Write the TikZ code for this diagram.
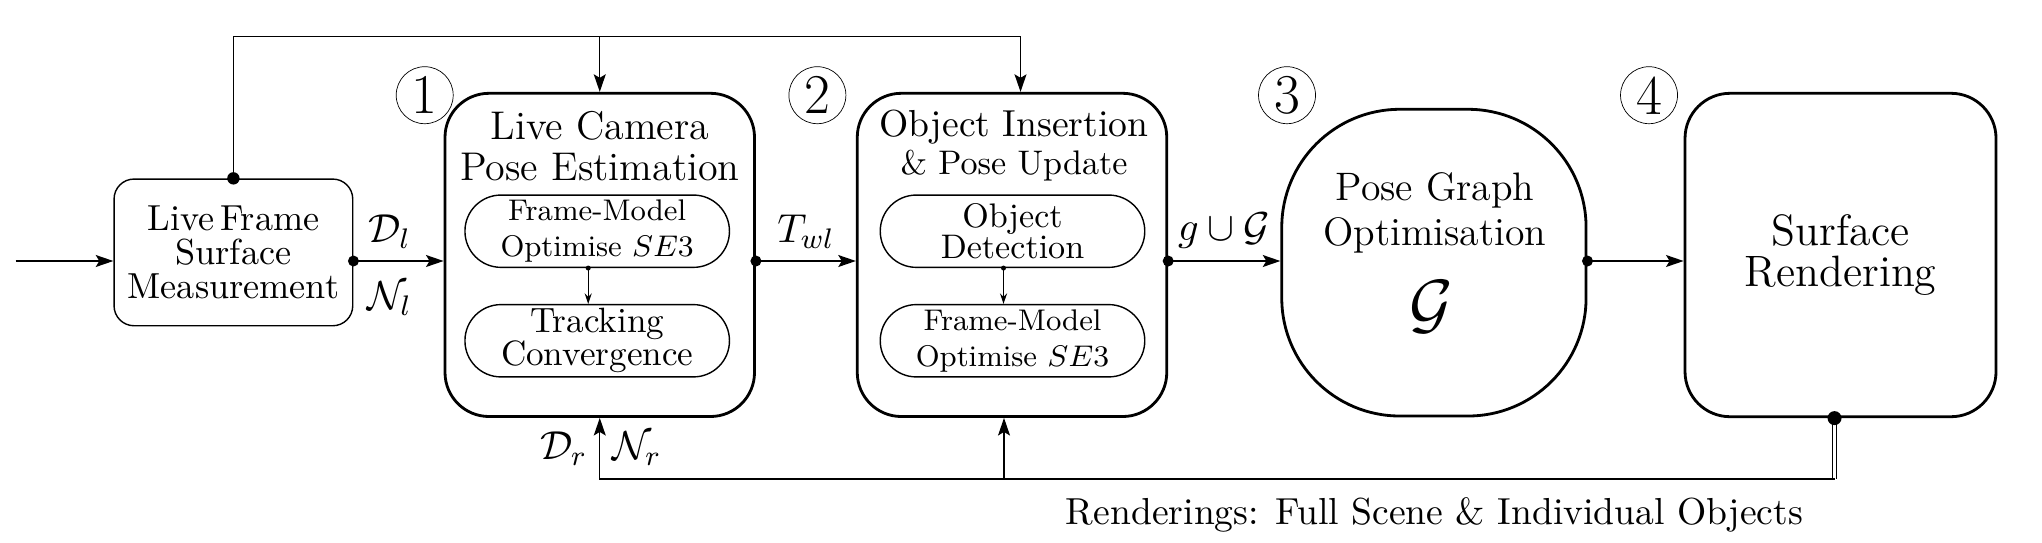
\RequirePackage{fix-cm}
\documentclass[tikz,border=0pt]{standalone}
\usetikzlibrary{arrows.meta}
\newcommand{\fs}[2]{\fontsize{#1}{#2}\selectfont}
\begin{document}
\begin{tikzpicture}[>={Stealth[length=5pt,width=3.4pt,inset=1pt]},
  stage/.style={draw,thick,rounded corners=4.4mm,minimum width=3.095cm,minimum height=3.232cm},
  sub/.style={draw,rounded corners=3.6mm,minimum width=2.645cm,minimum height=0.723cm,inner sep=0pt,align=center},
  num/.style={draw,very thin,circle,minimum size=5.7mm,inner sep=0pt,font=\fs{16}{18}},
  lbl/.style={font=\fs{11.5}{13}}]
\useasboundingbox (0,-2.81) rectangle (20.42,2.61);
\coordinate (src) at (0.156,0);
\coordinate (upper) at (0,2.247);
\coordinate (lower) at (0,-2.18);

\node[draw,rounded corners=2mm,minimum width=2.387cm,minimum height=1.467cm,align=center,font=\fs{10.3}{9.6}] (frame) at (2.334,0.086) {Live\,Frame\\Surface\\Measurement};

\node[stage] (cam) at (5.9975,0.061) {};
\node[align=center,font=\fs{11.4}{11.8}] (camt) at (6.0,1.149) {Live Camera\\Pose Estimation};
\node[sub,font=\fs{8.5}{10.2}] (fm1) at (5.972,0.298) {Frame-Model\\Optimise $SE3$};
\node[sub,font=\fs{10}{9.4}] (tc) at (5.972,-0.7975) {Tracking\\Convergence};

\node[stage] (obj) at (10.12,0.061) {};
\node[align=center,font=\fs{9.7}{10.6}] (objt) at (10.14,1.154) {{\fs{10.7}{10.6}Object Insertion}\\\& Pose Update};
\node[sub,font=\fs{9.7}{8.8}] (od) at (10.125,0.298) {Object\\Detection};
\node[sub,font=\fs{8.5}{10.2}] (fm2) at (10.125,-0.7975) {Frame-Model\\Optimise $SE3$};

\node[draw,thick,rounded corners=1.18cm,minimum width=3.043cm,minimum height=3.067cm] (pg) at (14.339,-0.0165) {};
\node[align=center,font=\fs{11.3}{13}] (pgt) at (14.35,0.481) {Pose Graph\\Optimisation};
\node[font=\fs{19}{22}] (pgg) at (14.317,-0.457) {$\mathcal{G}$};

\node[stage,rounded corners=4.5mm,minimum width=3.11cm,minimum height=3.234cm,align=center,font=\fs{12.5}{11.6}] (surf) at (18.405,0.06) {Surface\\Rendering};

\foreach \x/\n in {4.247/1,8.174/2,12.87/3,16.49/4}
  \node[num] (n\n) at (\x,1.658) {\n};

\draw[->] (src) -- (src -| frame.west);
\draw[->] (frame.east |- src) -- node[lbl,above,pos=0.4]{$\mathcal{D}_l$} node[lbl,below=0.8mm,pos=0.4]{$\mathcal{N}_l$} (cam.west |- src);
\fill (frame.east |- src) circle (0.055);

\coordinate (objin) at ([xshift=0.085cm]obj.north);
\draw[->] (frame.north) |- (objin |- upper) -- (objin);
\draw[->] (cam.north |- upper) -- (cam.north);
\fill (frame.north) circle (0.062);

\draw[->] (cam.east |- src) -- node[lbl,above]{$T_{wl}$} (obj.west |- src);
\fill (cam.east |- src) circle (0.055);
\draw[->] (obj.east |- src) -- node[lbl,above]{$g\cup\mathcal{G}$} (pg.west |- src);
\fill (obj.east |- src) circle (0.055);
\draw[->] (pg.east |- src) -- (surf.west |- src);
\fill (pg.east |- src) circle (0.055);

\draw[-{Stealth[length=3pt,width=2pt]},thin] ([xshift=-0.09cm]fm1.south) -- ([xshift=-0.09cm]tc.north);
\fill ([xshift=-0.09cm]fm1.south) circle (0.025);
\draw[-{Stealth[length=3pt,width=2pt]},thin] ([xshift=-0.09cm]od.south) -- ([xshift=-0.09cm]fm2.north);
\fill ([xshift=-0.09cm]od.south) circle (0.025);

\coordinate (out) at ([xshift=-0.06cm]surf.south);
\coordinate (objout) at ([xshift=-0.08cm]obj.south);
\draw[double,double distance=0.6pt] (out) -- (out |- lower);
\draw[->] (out |- lower) -| node[lbl,left,pos=0.75]{$\mathcal{D}_r$} node[lbl,right,pos=0.75]{$\mathcal{N}_r$} (cam.south);
\draw[->] (objout |- lower) -- (objout);
\fill (out) circle (0.07);
\node[font=\fs{10.7}{12}] (rtext) at (14.345,-2.5435) {Renderings: Full Scene \& Individual Objects};
\end{tikzpicture}
\end{document}
